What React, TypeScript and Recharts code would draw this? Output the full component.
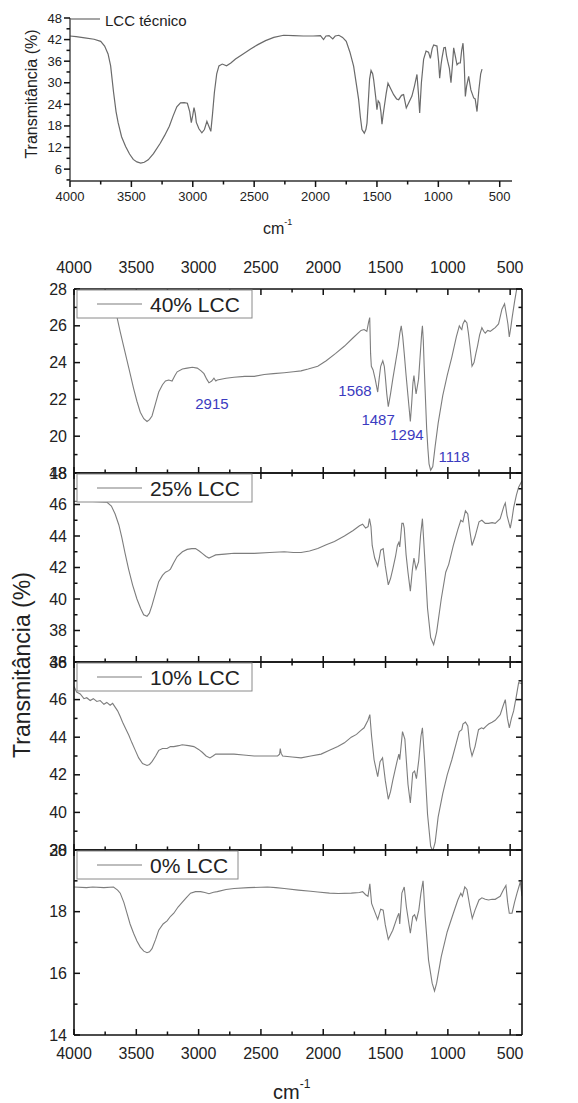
import React from 'react';
import { LineChart, Line, XAxis, YAxis, ReferenceDot } from 'recharts';

// wavenumber (cm-1) / transmittance (%) pairs
const lccTecnico = [
  [4000, 43.0], [3950, 42.8], [3880, 42.5], [3804, 42.1], [3750, 41.5], [3718, 40.2], [3690, 38], [3669, 34.7],
  [3645, 27.3], [3625, 22], [3608, 18.9], [3580, 15], [3547, 12.3], [3515, 10.2], [3485, 8.7], [3455, 8.0],
  [3424, 7.7], [3395, 7.9], [3363, 8.6], [3320, 10.3], [3265, 13.2], [3230, 15.3], [3191, 17.9], [3160, 20.8],
  [3130, 23.3], [3100, 24.4], [3070, 24.5], [3044, 24.3], [3025, 22], [3012, 18.9], [3000, 21], [2990, 23.1],
  [2980, 21.5], [2971, 19.0], [2950, 17.2], [2926, 16.1], [2905, 17.0], [2885, 19.3], [2870, 18.0], [2853, 16.5],
  [2840, 21], [2824, 27.3], [2805, 32.5], [2787, 34.7], [2760, 35.2], [2725, 34.7], [2690, 35.5], [2652, 36.6],
  [2590, 38], [2529, 39.4], [2470, 40.6], [2407, 41.7], [2340, 42.6], [2260, 43.2], [2180, 43.1], [2100, 43.0],
  [2020, 43.0], [1960, 43.1], [1935, 42.0], [1915, 43.0], [1890, 43.1], [1860, 42.2], [1840, 43.0], [1810, 43.2],
  [1780, 42.6], [1750, 41.5], [1720, 38.5], [1690, 34.6], [1665, 29], [1649, 25.3], [1635, 20.5], [1622, 17.0],
  [1603, 16.0], [1590, 17], [1581, 18.8], [1570, 25], [1560, 31], [1548, 33.4], [1535, 32.5], [1527, 30.9],
  [1510, 26], [1500, 22.5], [1490, 25], [1478, 24.4], [1468, 22], [1459, 18.5], [1450, 21], [1440, 23.4],
  [1425, 27], [1410, 29.9], [1390, 28.5], [1364, 26.7], [1340, 25.5], [1323, 25.3], [1300, 26.5], [1283, 26.7],
  [1261, 23], [1240, 24.5], [1215, 26.3], [1195, 29], [1174, 32.3], [1162, 27], [1152, 21.6], [1138, 30],
  [1120, 36.5], [1100, 38.8], [1080, 38.5], [1065, 36.8], [1050, 39.5], [1038, 40.5], [1011, 40.2], [998, 36],
  [989, 31.3], [978, 35], [970, 36.9], [955, 39.7], [943, 39.8], [933, 37.5], [924, 36], [910, 34], [897, 30],
  [885, 35], [875, 39.7], [862, 37.5], [848, 35], [835, 35.5], [821, 35.5], [810, 39], [799, 41.0], [790, 36],
  [780, 26.2], [770, 29], [753, 31.8], [735, 28], [712, 25.8], [700, 25.5], [685, 22], [670, 28], [655, 32.5],
  [644, 33.8],
];

const lcc40 = [
  [4000, 28.6], [3850, 28.4], [3750, 28.0], [3700, 27.3], [3656, 26.5], [3630, 25.7], [3602, 24.9], [3560, 23.7],
  [3522, 22.6], [3495, 21.9], [3468, 21.3], [3440, 20.95], [3414, 20.8], [3394, 20.9], [3374, 21.1], [3345, 21.8],
  [3320, 22.4], [3290, 22.8], [3266, 23.0], [3240, 23.05], [3213, 23.0], [3190, 23.3], [3172, 23.5], [3130, 23.65],
  [3092, 23.7], [3050, 23.75], [3011, 23.7], [2980, 23.55], [2957, 23.4], [2935, 23.1], [2917, 22.9], [2895, 23.0],
  [2877, 23.15], [2862, 23.0], [2850, 23.05], [2780, 23.15], [2716, 23.2], [2630, 23.25], [2554, 23.25],
  [2474, 23.35], [2400, 23.4], [2313, 23.45], [2240, 23.5], [2178, 23.55], [2121, 23.65], [2044, 23.8],
  [1976, 24.1], [1900, 24.5], [1829, 24.9], [1760, 25.35], [1697, 25.75], [1672, 25.8], [1650, 25.7],
  [1636, 26.2], [1627, 26.45], [1620, 24.5], [1614, 23.8], [1600, 23.6], [1583, 23.1], [1563, 22.4],
  [1550, 23.2], [1539, 23.8], [1522, 24.1], [1510, 23.8], [1502, 23.25], [1490, 22.3], [1478, 21.6],
  [1460, 22.3], [1442, 23.1], [1420, 24.0], [1398, 24.9], [1385, 25.6], [1374, 26.0], [1362, 25.4],
  [1350, 24.5], [1335, 23.3], [1320, 22.2], [1301, 20.8], [1290, 21.8], [1280, 22.9], [1272, 23.3],
  [1264, 22.8], [1255, 22.3], [1245, 22.7], [1235, 23.1], [1219, 24.7], [1210, 25.6], [1204, 26.0],
  [1197, 25.2], [1190, 23.8], [1170, 20.4], [1160, 19.3], [1151, 18.5], [1138, 18.15], [1121, 18.35],
  [1102, 19.45], [1078, 20.7], [1041, 22.2], [1005, 23.3], [968, 24.3], [932, 25.4], [908, 26.0], [895, 25.85],
  [888, 25.8], [879, 26.1], [864, 26.3], [847, 26.15], [835, 25.6], [823, 24.9], [806, 23.8], [790, 24.0],
  [775, 24.5], [762, 24.9], [745, 25.5], [727, 25.9], [712, 25.7], [700, 25.6], [680, 25.75], [660, 25.7],
  [640, 25.8], [620, 25.9], [593, 26.1], [566, 26.9], [545, 27.2], [530, 26.6], [518, 26.1], [507, 25.4],
  [495, 25.9], [485, 26.4], [465, 27.3], [445, 28.1], [420, 28.5], [405, 28.7],
];

const lcc25 = [
  [4000, 46.2], [3850, 46.2], [3737, 46.15], [3700, 45.9], [3670, 45.4], [3640, 44.7], [3616, 43.9], [3590, 42.9],
  [3562, 41.9], [3530, 40.9], [3495, 40.0], [3465, 39.4], [3441, 39.0], [3414, 38.9], [3395, 39.1], [3374, 39.6],
  [3345, 40.4], [3320, 41.1], [3290, 41.5], [3266, 41.7], [3240, 41.8], [3226, 41.9], [3200, 42.3], [3172, 42.7],
  [3130, 43.0], [3092, 43.15], [3055, 43.2], [3025, 43.2], [2995, 43.05], [2971, 42.9], [2940, 42.7],
  [2917, 42.6], [2890, 42.7], [2863, 42.8], [2790, 42.85], [2716, 42.9], [2640, 42.9], [2554, 42.9],
  [2430, 42.95], [2313, 43.0], [2240, 42.95], [2178, 42.95], [2110, 43.05], [2044, 43.2], [1976, 43.45],
  [1910, 43.65], [1830, 44.0], [1760, 44.35], [1709, 44.65], [1684, 44.75], [1660, 44.5], [1640, 44.6],
  [1629, 45.1], [1617, 44.6], [1607, 43.4], [1587, 42.6], [1563, 42.1], [1550, 42.6], [1539, 43.1],
  [1519, 43.2], [1502, 42.1], [1478, 40.9], [1460, 41.3], [1442, 41.9], [1420, 42.7], [1405, 43.4],
  [1393, 43.6], [1386, 43.3], [1369, 44.8], [1358, 44.8], [1350, 44.5], [1335, 42.8], [1320, 41.7],
  [1301, 40.5], [1284, 41.9], [1272, 42.6], [1255, 41.9], [1235, 42.35], [1219, 44.05], [1204, 45.1],
  [1187, 42.8], [1163, 39.4], [1138, 37.55], [1114, 37.1], [1090, 37.9], [1053, 40.0], [1017, 41.7],
  [993, 42.2], [956, 43.4], [920, 44.4], [896, 45.0], [879, 44.9], [859, 45.6], [840, 45.4], [823, 44.3],
  [806, 43.4], [782, 43.95], [750, 44.9], [727, 45.0], [700, 44.8], [673, 44.8], [645, 44.85], [620, 44.8],
  [580, 45.1], [550, 45.9], [539, 46.1], [525, 45.3], [512, 44.9], [499, 44.5], [485, 45.1], [472, 45.8],
  [450, 46.6], [432, 47.1], [405, 47.5],
];

const lcc10 = [
  [4000, 46.7], [3979, 46.4], [3950, 46.3], [3920, 46.05], [3898, 46.1], [3870, 45.95], [3845, 46.05],
  [3817, 45.9], [3790, 45.95], [3760, 45.75], [3737, 45.85], [3710, 45.7], [3690, 45.8], [3670, 45.6],
  [3650, 45.4], [3629, 45.1], [3610, 44.8], [3589, 44.5], [3560, 44.1], [3535, 43.7], [3508, 43.3],
  [3481, 42.9], [3450, 42.6], [3414, 42.5], [3394, 42.55], [3374, 42.7], [3345, 43.0], [3320, 43.3],
  [3290, 43.4], [3253, 43.4], [3226, 43.5], [3199, 43.5], [3160, 43.55], [3132, 43.6], [3080, 43.55],
  [3038, 43.5], [3000, 43.35], [2971, 43.2], [2940, 43.0], [2909, 42.9], [2885, 43.0], [2863, 43.1],
  [2790, 43.1], [2716, 43.1], [2640, 43.05], [2554, 43.0], [2460, 43.0], [2366, 43.0], [2350, 43.1],
  [2345, 43.4], [2338, 43.15], [2326, 43.0], [2250, 42.95], [2178, 42.9], [2100, 43.0], [2017, 43.1],
  [1950, 43.3], [1883, 43.5], [1830, 43.7], [1775, 44.0], [1733, 44.15], [1700, 44.35], [1672, 44.5],
  [1641, 44.9], [1626, 45.2], [1612, 44.05], [1592, 42.8], [1563, 41.9], [1544, 42.7], [1524, 42.9],
  [1502, 41.7], [1478, 40.7], [1460, 41.1], [1442, 41.7], [1405, 42.8], [1393, 43.1], [1386, 42.8],
  [1364, 44.3], [1345, 43.9], [1320, 41.5], [1301, 40.5], [1282, 42.1], [1267, 42.2], [1252, 41.8],
  [1233, 42.8], [1216, 44.05], [1204, 44.5], [1187, 42.8], [1163, 39.9], [1138, 38.2], [1121, 37.95],
  [1102, 38.4], [1078, 39.75], [1041, 41.0], [1005, 42.0], [968, 42.8], [932, 43.7], [908, 44.3], [888, 44.4],
  [879, 44.7], [859, 44.8], [840, 44.6], [823, 43.5], [806, 43.0], [782, 43.5], [754, 44.4], [730, 44.5],
  [714, 44.45], [690, 44.6], [673, 44.7], [645, 44.8], [620, 44.9], [580, 45.2], [555, 45.7], [539, 46.0],
  [522, 45.0], [507, 44.5], [490, 45.0], [472, 45.4], [450, 46.2], [432, 46.9], [405, 46.85],
];

const lcc0 = [
  [4000, 18.8], [3900, 18.78], [3850, 18.8], [3760, 18.78], [3683, 18.8], [3650, 18.7], [3629, 18.6],
  [3600, 18.3], [3575, 17.95], [3550, 17.6], [3522, 17.3], [3495, 17.05], [3468, 16.85], [3440, 16.72],
  [3414, 16.67], [3394, 16.7], [3374, 16.8], [3345, 17.1], [3320, 17.4], [3285, 17.6], [3253, 17.7],
  [3225, 17.85], [3199, 17.95], [3165, 18.15], [3132, 18.3], [3100, 18.45], [3065, 18.6], [3025, 18.65],
  [2984, 18.65], [2950, 18.62], [2917, 18.58], [2880, 18.63], [2850, 18.65], [2780, 18.72], [2716, 18.75],
  [2600, 18.78], [2447, 18.8], [2380, 18.78], [2313, 18.75], [2200, 18.7], [2100, 18.66], [2044, 18.64],
  [1950, 18.6], [1879, 18.59], [1775, 18.6], [1709, 18.62], [1684, 18.65], [1660, 18.55], [1641, 18.5],
  [1626, 18.9], [1612, 18.27], [1587, 18.0], [1563, 17.75], [1539, 18.08], [1519, 18.05], [1502, 17.57],
  [1478, 17.1], [1460, 17.25], [1442, 17.4], [1405, 17.84], [1393, 17.95], [1386, 17.6], [1369, 18.6],
  [1350, 18.8], [1333, 18.16], [1301, 17.3], [1282, 17.84], [1267, 17.9], [1252, 17.73], [1233, 18.05],
  [1216, 18.6], [1199, 19.0], [1182, 17.84], [1155, 16.43], [1126, 15.68], [1107, 15.43], [1090, 15.68],
  [1053, 16.54], [1005, 17.35], [956, 17.95], [920, 18.38], [896, 18.6], [883, 18.5], [864, 18.8],
  [847, 18.72], [823, 18.16], [804, 17.78], [782, 18.05], [750, 18.38], [727, 18.45], [700, 18.4],
  [673, 18.38], [645, 18.4], [620, 18.4], [600, 18.45], [580, 18.5], [555, 18.7], [534, 18.85], [520, 18.3],
  [507, 17.95], [485, 17.95], [465, 18.3], [445, 18.6], [418, 18.97], [405, 18.5],
];

const xTicks = [4000, 3750, 3500, 3250, 3000, 2750, 2500, 2250, 2000, 1750, 1500, 1250, 1000, 750, 500];
const topYTicks = [3, 6, 9, 12, 15, 18, 21, 24, 27, 30, 33, 36, 39, 42, 45, 48];
const ticks40 = [18, 19, 20, 21, 22, 23, 24, 25, 26, 27, 28];
const ticks25 = [36, 37, 38, 39, 40, 41, 42, 43, 44, 45, 46, 47, 48];
const ticks10 = [38, 39, 40, 41, 42, 43, 44, 45, 46, 47, 48];
const ticks0 = [14, 15, 16, 17, 18, 19, 20];

// peak labels on the 40% spectrum: text, anchor wavenumber, anchor transmittance
const peakLabels: [string, number, number][] = [
  ['2915', 2893, 21.8],
  ['1568', 1745, 22.5],
  ['1487', 1560, 20.9],
  ['1294', 1328, 20.07],
  ['1118', 950, 18.87],
];

const FONT = '"Liberation Sans", Arial, Helvetica, sans-serif';
const TEXT = '#222';
const AXIS = '#111';
const LINE = '#7d7d7d';
const BLUE = '#3b3bc0';

const toRows = (pts: number[][]) => pts.map(([wn, t]) => ({ wn, t }));

// each tick draws its own mark (long for labelled values, short between) plus its label
const xTick = (dir: number, show: boolean, fs: number, off: number) => (props: any) => {
  const x = Number(props.x);
  const y = Number(props.y);
  const v = Number(props.payload.value);
  const major = v % 500 === 0;
  const len = major ? 6 : 3.5;
  return (
    <g>
      <rect x={x - 0.75} y={dir > 0 ? y : y - len} width={1.5} height={len} fill={AXIS} />
      {show && major && (
        <text x={x} y={y + off} textAnchor="middle" dominantBaseline="central" fontSize={fs} fill={TEXT} fontFamily={FONT}>
          {v}
        </text>
      )}
    </g>
  );
};

const yTick = (dir: number, show: boolean, step: number, fs: number, off: number) => (props: any) => {
  const x = Number(props.x);
  const y = Number(props.y);
  const v = Number(props.payload.value);
  const major = v % step === 0;
  const len = major ? 6 : 3.5;
  return (
    <g>
      <rect x={dir > 0 ? x : x - len} y={y - 0.75} width={len} height={1.5} fill={AXIS} />
      {show && major && (
        <text x={x - off} y={y} textAnchor="end" dominantBaseline="central" fontSize={fs} fill={TEXT} fontFamily={FONT}>
          {v}
        </text>
      )}
    </g>
  );
};

const panels = [
  { label: '40% LCC', pts: lcc40, domain: [18, 28], ticks: ticks40, top: 289, bottom: 473, boxW: 175 },
  { label: '25% LCC', pts: lcc25, domain: [36, 48], ticks: ticks25, top: 473, bottom: 662, boxW: 175 },
  { label: '10% LCC', pts: lcc10, domain: [38, 48], ticks: ticks10, top: 662, bottom: 850, boxW: 175 },
  { label: '0% LCC', pts: lcc0, domain: [14, 20], ticks: ticks0, top: 850, bottom: 1035, boxW: 161 },
];

const axisLine = { stroke: AXIS, strokeWidth: 1.6 };
const PAD = 40;

const Panel: React.FC<{ p: (typeof panels)[number]; first: boolean; last: boolean }> = ({ p, first, last }) => {
  const h = p.bottom - p.top;
  return (
    <div style={{ position: 'absolute', left: 0, top: p.top - PAD }}>
      <LineChart width={578} height={h + 2 * PAD} data={toRows(p.pts)} margin={{ top: PAD - 1, right: 55, bottom: PAD - 1, left: 0 }}>
        <XAxis xAxisId="b" type="number" dataKey="wn" domain={[405, 4000]} reversed allowDataOverflow ticks={xTicks}
          interval={0} height={1} tickSize={0} tickMargin={0} tickLine={false} axisLine={axisLine}
          tick={xTick(-1, last, 16, 18)} />
        <XAxis xAxisId="t" orientation="top" type="number" dataKey="wn" domain={[405, 4000]} reversed allowDataOverflow
          ticks={xTicks} interval={0} height={1} tickSize={0} tickMargin={0} tickLine={false} axisLine={axisLine}
          tick={xTick(1, first, 16, -22)} />
        <YAxis yAxisId="l" type="number" width={74} domain={p.domain} allowDataOverflow ticks={p.ticks} interval={0}
          tickSize={0} tickMargin={0} tickLine={false} axisLine={axisLine} tick={yTick(1, true, 2, 16, 7)} />
        <YAxis yAxisId="r" orientation="right" type="number" width={1} domain={p.domain} allowDataOverflow ticks={p.ticks}
          interval={0} tickSize={0} tickMargin={0} tickLine={false} axisLine={axisLine} tick={yTick(-1, false, 2, 16, 0)} />
        <Line xAxisId="b" yAxisId="l" type="linear" dataKey="t" stroke={LINE} strokeWidth={1.1} dot={false}
          isAnimationActive={false} />
        {first && peakLabels.map(([txt, wn, t]) => (
          <ReferenceDot key={txt} xAxisId="b" yAxisId="l" x={wn} y={t} r={1}
            shape={(s: any) => (
              <text x={s.cx} y={s.cy} textAnchor="middle" dominantBaseline="central" fontSize={15} fill={BLUE} fontFamily={FONT}>
                {txt}
              </text>
            )} />
        ))}
      </LineChart>
    </div>
  );
};

export default function App() {
  return (
    <div style={{ position: 'absolute', left: 0, top: 0, width: 578, height: 1103, background: '#fff', fontFamily: FONT }}>
      <div style={{ position: 'absolute', left: 0, top: 0 }}>
        <LineChart width={578} height={240} data={toRows(lccTecnico)} margin={{ top: 18, right: 66, bottom: 58, left: 0 }}>
          <XAxis type="number" dataKey="wn" domain={[400, 4000]} reversed allowDataOverflow ticks={xTicks} interval={0}
            height={1} tickSize={0} tickMargin={0} tickLine={false} axisLine={{ stroke: '#333', strokeWidth: 1.3 }}
            tick={xTick(1, true, 13, 15)} />
          <YAxis type="number" width={70} domain={[2.7, 48]} allowDataOverflow ticks={topYTicks} interval={0}
            tickSize={0} tickMargin={0} tickLine={false} axisLine={{ stroke: '#333', strokeWidth: 1.3 }}
            tick={yTick(-1, true, 6, 13, 8)} />
          <Line type="linear" dataKey="t" stroke="#6a6a6a" strokeWidth={1.2} dot={false} isAnimationActive={false} />
        </LineChart>
      </div>

      {panels.map((p, i) => (
        <Panel key={p.label} p={p} first={i === 0} last={i === panels.length - 1} />
      ))}

      <svg width={578} height={1103} style={{ position: 'absolute', left: 0, top: 0, pointerEvents: 'none' }} fontFamily={FONT}>
        <line x1={70} x2={100} y1={19} y2={19} stroke="#6a6a6a" strokeWidth={1.2} />
        <text x={105} y={20} fontSize={15} fill={TEXT} dominantBaseline="central">LCC técnico</text>
        <text transform="translate(31,94) rotate(-90)" textAnchor="middle" dominantBaseline="central" fontSize={16} fill={TEXT}>
          Transmitância (%)
        </text>
        <text x={263} y={234} fontSize={16} fill={TEXT}>
          cm<tspan dy={-9} fontSize={9}>-1</tspan>
        </text>

        {panels.map((p) => (
          <g key={p.label}>
            <rect x={77} y={p.top + 1} width={p.boxW} height={28} fill="#fff" stroke="#8a8a8a" strokeWidth={1} />
            <line x1={97} x2={142} y1={p.top + 15} y2={p.top + 15} stroke={LINE} strokeWidth={1.1} />
            <text x={150} y={p.top + 15} fontSize={21} fill={TEXT} dominantBaseline="central">{p.label}</text>
          </g>
        ))}

        <text transform="translate(22,665) rotate(-90)" textAnchor="middle" dominantBaseline="central" fontSize={23} fill={TEXT}>
          Transmitância (%)
        </text>
        <text x={273} y={1099} fontSize={20} fill={TEXT}>
          cm<tspan dy={-11} fontSize={12}>-1</tspan>
        </text>
      </svg>
    </div>
  );
}
